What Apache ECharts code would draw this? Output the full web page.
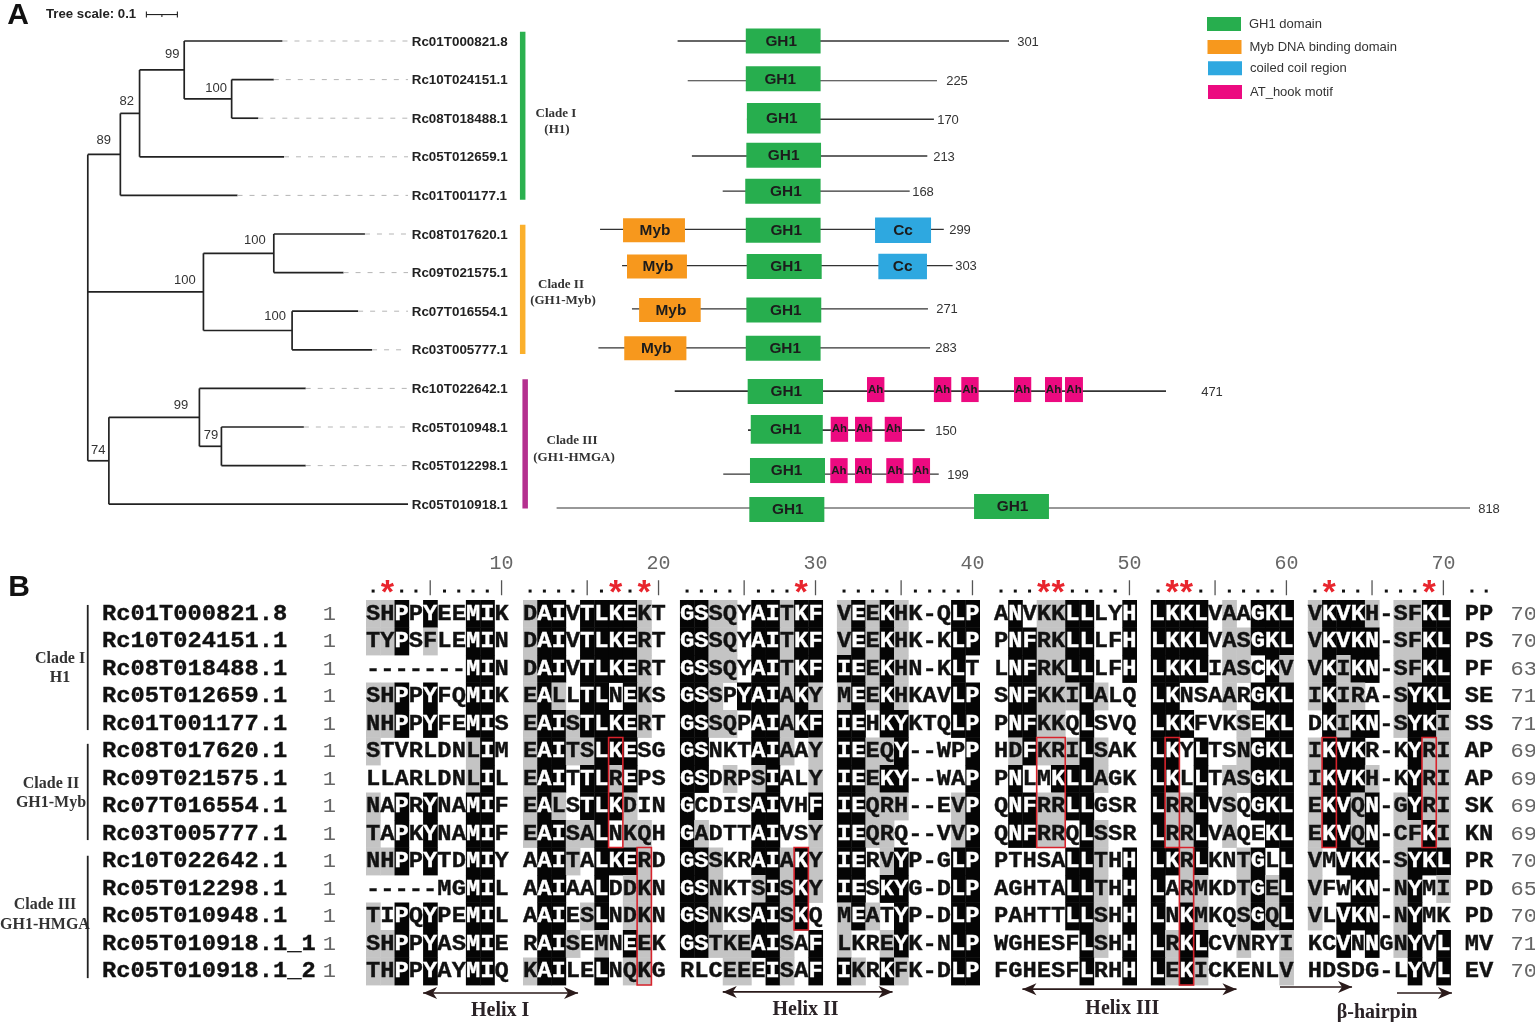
<!DOCTYPE html>
<html><head><meta charset="utf-8">
<style>html,body{margin:0;padding:0;background:#fff;overflow:hidden}#c{width:1535px;height:1022px}</style>
<script src="https://cdn.jsdelivr.net/npm/echarts@6/dist/echarts.min.js"></script>
</head><body><div id="c"></div>
<script>
// ---------- Panel A data ----------
const leafNames = ['Rc01T000821.8','Rc10T024151.1','Rc08T018488.1','Rc05T012659.1','Rc01T001177.1','Rc08T017620.1','Rc09T021575.1','Rc07T016554.1','Rc03T005777.1','Rc10T022642.1','Rc05T010948.1','Rc05T012298.1','Rc05T010918.1'];
// node, parent, distance from root; leaves are numbered by row
const treeInternal = [['root',null,0],['a','root',.105],['b','a',.167],['c','b',.311],['d','c',.464],['e','root',.373],['f','e',.600],['g','e',.659],['h','root',.068],['i','h',.360],['j','i',.431]];
const leafParents = ['c','d','d','b','a','f','f','g','g','i','j','j','h'];
const leafDistances = [.628,.600,.550,.633,.483,.894,.825,.872,.917,.703,.697,.703,1.033];
const supportNodes = ['c','d','b','a','f','e','g','i','j','h'];
const supportValues = [99,100,82,89,100,100,100,99,79,74];
const treeScaleLength = 0.1;
const proteinLengths = [301,225,170,213,168,299,303,271,283,471,150,199,818];
const proteinSpans = [[116,417.3],[125.2,351.8],[179,349],[129,343],[157,327],[45.5,358],[65.5,366],[74.5,343.6],[44,345.5],[113.4,560],[180,340.6],[157.5,353.4],[6,836.4]];
const gh1Spans = [[[178,246]],[[178,246]],[[179,246]],[[178.5,246.4]],[[177.5,246]],[[178,246]],[[178.8,247]],[[178.5,246.6]],[[178,246]],[[179.7,248.2]],[[182.5,248]],[[181.8,250]],[[181.2,249.4],[385.5,453.6]]];
const mybSpans = {5:[[66.4,122.7]],6:[[70,124.5]],7:[[81,137]],8:[[67.5,124]]};
const ccSpans = {5:[[295.5,346.4]],6:[[298.5,342.7]]};
const ahSpans = {9:[[288.2,304],[349,364.8],[373.9,389.7],[421.8,437.5],[450,465.5],[468.2,484.5]],10:[[255.2,271],[277.3,293],[304.3,320]],11:[[254.8,270.6],[277.3,292.7],[305.7,321.5],[329.7,345.5]]};
const domainNames = ['GH1 domain','Myb DNA binding domain','coiled coil region','AT_hook motif'];
const domainShort = ['GH1','Myb','Cc','Ah'];
// ---------- Panel B data ----------
const seqNames = ['Rc01T000821.8','Rc10T024151.1','Rc08T018488.1','Rc05T012659.1','Rc01T001177.1','Rc08T017620.1','Rc09T021575.1','Rc07T016554.1','Rc03T005777.1','Rc10T022642.1','Rc05T012298.1','Rc05T010948.1','Rc05T010918.1_1','Rc05T010918.1_2'];
const seqResidues = [
'SHPPYEEMIK DAIVTLKEKT GSSQYAITKF VEEKHK-QLP ANVKKLLLYH LKKLVAAGKL VKVKH-SFKL PP',
'TYPSFLEMIN DAIVTLKERT GSSQYAITKF VEEKHK-KLP PNFRKLLLFH LKKLVASGKL VKVKN-SFKL PS',
'-------MIN DAIVTLKERT GSSQYAITKF IEEKHN-KLT LNFRKLLLFH LKKLIASCKV VKIKN-SFKL PF',
'SHPPYFQMIK EALLTLNEKS GSSPYAIAKY MEEKHKAVLP SNFKKILALQ LKNSAARGKL IKIRA-SYKL SE',
'NHPPYFEMIS EAISTLKERT GSSQPAIAKF IEHKYKTQLP PNFKKQLSVQ LKKFVKSEKL DKIKN-SYKI SS',
'STVRLDNLIM EAITSLKESG GSNKTAIAAY IEEQY--WPP HDFKRILSAK LKYLTSNGKL IKVKR-KYRI AP',
'LLARLDNLIL EAITTLREPS GSDRPSIALY IEEKY--WAP PNLMKLLAGK LKLLTASGKL IKVKH-KYRI AP',
'NAPRYNAMIF EALSTLKDIN GCDISAIVHF IEQRH--EVP QNFRRLLGSR LRRLVSQGKL EKVQN-GYRI SK',
'TAPKYNAMIF EAISALNKQH GADTTAIVSY IEQRQ--VVP QNFRRQLSSR LRRLVAQEKL EKVQN-CFKI KN',
'NHPPYTDMIY AAITALKERD GSSKRAIAKY IERVYP-GLP PTHSALLTHH LKRLKNTGLL VMVKK-SYKL PR',
'-----MGMIL AAIAALDDKN GSNKTSISKY IESKYG-DLP AGHTALLTHH LARMKDTGEL VFWKN-NYMI PD',
'TIPQYPEMIL AAIESLNDKN GSNKSAISKQ MEATYP-DLP PAHTTLLSHH LNKMKQSGQL VLVKN-NYMK PD',
'SHPPYASMIE RAISEMNEEK GSTKEAISAF LKREYK-NLP WGHESFLSHH LRKLCVNRYI KCVNNGNYVL MV',
'THPPYAYMIQ KAILELNQKG RLCEEEISAF IKRKFK-DLP FGHESFLRHH LEKICKENLV HDSDG-LYVL EV'];
// conservation class of every residue: k strong, g similar, . none
const seqShading = [
'ggk.k..kk. gkk.kkkkg. kkgg.kkgkk gkgkg...kk .k.ggkk..k kkkk.g.kkk gkkkg.ggkk ..',
'ggk.g..kk. gkk.kkkkg. kkgg.kkgkk gkgkg...kk .kkggkk..k kkkk.ggkkk gkkkk.ggkk ..',
'.......kk. gkk.kkkkg. kkgg.kkgkk kkgkg...k. .kkggkk..k kkkk.gg.kg gkgkk.ggkk ..',
'ggk.k..kk. gkg.kk.kg. kkg.kkkgkg gkgkg...kk .kkgggkg.. kk...g.kkk gkgg..gkkk ..',
'ggk.k..kk. gkkgkkkkg. kkgg.kkgkk kk.kk...kk .kkgg.k... kkk...g.kk .kgkk.gkkg ..',
'g......gk. gkkggkkk.. kk...kkg.g kkggk....k .gkgggkg.. kk.k..gkkk gkkk...kgg ..',
'.......gk. gkk.kkgk.. kk.g.gk..g kkgkk....k .k..kkkg.. kk.k.ggkkk gkkkg..kgg ..',
'g.k.k..kk. gkg.kkkg.. k....kk..k kkggg...gk .kkggkk... kggk.g.kkk gkkgk.gkgg ..',
'g.k.k..kk. gkkggk.gg. kg...kk..g kkgg....gk .kkgg.kg.. kggk.g..kk gkkgk.ggkg ..',
'ggk.k..kk. .kkg.kkkg. kkg..kkgkg kk.gk...kk .....kkg.k kkgk..gk.k g.kkk.gkkk ..',
'.......kk. .kk..k.gg. kkg..gkgkg kk.kk...kk .....kkg.k k.gg..gkgk g..kk.gk.g ..',
'g.k.k..kk. .kk.gk.gg. kkg..kkgk. gkg.k...kk .....kkg.k k.kg..gkgk g.kkk.gk.. ..',
'ggk.k..kk. .kkg.g.kg. kkgggkkg.k g..gk...kk ......kg.k kgkk..g..g ..k.k.gk.k ..',
'ggk.k..kk. gkk..k.gg. ...gg.kg.k kg.kg...kk ......k..k kgkg.....g .......k.k ..'];
const seqEnds = [70,70,63,71,71,69,69,69,69,70,65,70,71,70];
const rulerMarks = '.*..|....| ....|.*.*| ....|...*| ....|....| ...**....| .**.|....| .*..|...*| ..';
const rulerNumbers = [10,20,30,40,50,60,70];
// alignment position from, position to, first row, last row
const boxedResidues = [[17,17,5,8],[19,19,9,13],[29,29,9,11],[44,45,5,8],[52,52,5,8],[53,53,9,13],[62,62,5,8],[69,69,5,8]];
const structureNames = ['Helix I','Helix II','Helix III','β-hairpin'];
const structureArrows = [[4,14.86,true],[25,36.9,true],[46,61,true],[64.05,69.1,false],[72.25,76.1,false]];

// ---------- Layout (row units / pixels) ----------
const protRowPos = [0,1.03,2.03,2.98,3.89,4.88,5.82,6.94,7.95,9.07,10.08,11.22,12.1];
const boxRowPos = [0,.98,2.0,2.96,3.89,4.9,5.84,6.97,7.96,9.08,10.06,11.13,12.14];
const protLineW = [1.7,1.1,1.5,1.5,1.3,1.3,1.3,1.1,1.1,1.9,1.9,1.3,1.1];
const gh1Tall = {2:30.5,10:28.7};
const gh1TextDx = [-2,-3,-2,0,3,3,2,2,2,1,-1,-1,1];
const lengthLabelX = [1028,957,948,944,923,960,966,947,946,1212,946,958,1489];
const supportNudge = [[-12,-16],[-15.5,-10.7],[-12.8,-11.5],[-16.5,-14],[-19,-13],[-18.5,-11],[-17,-14],[-18.5,-11.7],[-10.4,-10.7],[-10.7,-10]];
const COLORS = {GH1:'#27ae4e',Myb:'#f7981d',Cc:'#2ea8e0',Ah:'#ec0a80'};
const SER = '"Liberation Serif"', SAN = '"Liberation Sans"', MONO = '"Liberation Mono"';

function txt(x,y,text,font,fill,align,scaleX,heavy){
  const st={text:String(text),font:font,fill:fill||'#1a1a1a',align:align||'center',verticalAlign:'middle'};
  if(heavy){st.stroke=fill;st.lineWidth=heavy;}
  return {type:'text',x:x,y:y,scaleX:scaleX||1,style:st};
}
function seg(p,q,w,color,dash){
  return {type:'line',shape:{x1:p[0],y1:p[1],x2:q[0],y2:q[1]},style:{stroke:color||'#222',lineWidth:w,lineDash:dash||null}};
}
function marks(name,grid,items,draw,z,color){
  return {type:'custom',name:name,coordinateSystem:'cartesian2d',xAxisIndex:grid,yAxisIndex:grid,clip:false,silent:true,z:z||2,
    itemStyle:color?{color:color}:undefined,
    data:items.map(d=>[d.x,d.y]),
    renderItem:(p,api)=>draw(items[p.dataIndex],api)};
}

// ---------- Tree ----------
const nodes = {};
treeInternal.forEach(n=>nodes[n[0]]={id:n[0],parent:n[1],x:n[2],kids:[]});
leafNames.forEach((nm,i)=>{nodes['L'+i]={id:'L'+i,parent:leafParents[i],x:leafDistances[i],y:i,kids:[]};});
Object.values(nodes).forEach(n=>{if(n.parent)nodes[n.parent].kids.push(n);});
function rowOf(n){ if(n.y===undefined){const ys=n.kids.map(rowOf);n.y=(Math.min(...ys)+Math.max(...ys))/2;} return n.y; }
rowOf(nodes.root);
const branchItems=[];
Object.values(nodes).forEach(n=>{
  if(n.parent) branchItems.push({x:n.x,y:n.y,x0:nodes[n.parent].x,y0:n.y});
  if(n.kids.length){const ys=n.kids.map(k=>k.y);branchItems.push({x:n.x,y:Math.min(...ys),x0:n.x,y0:Math.max(...ys)});}
});
const dashItems = leafNames.map((nm,i)=>({x:1.033,y:i,x0:leafDistances[i]}));
const leafItems = leafNames.map((nm,i)=>({x:1.045,y:i,t:nm}));
const supportItems = supportNodes.map((id,i)=>({x:nodes[id].x,y:nodes[id].y,t:supportValues[i],n:supportNudge[i]}));
const scaleItems = [{x:.189,y:-.685,x0:.189+treeScaleLength}];
const cladeBarsA = [[0,4,'#2bb14f',1.394],[5,8,'#fbb02c',1.394],[9,12,'#b5308f',1.402]].map(c=>({x:c[3],y:c[0],y1:c[1],c:c[2]}));

// ---------- Domains ----------
const protItems = proteinSpans.map((s,i)=>({x:s[0],y:protRowPos[i],x1:s[1],w:protLineW[i]}));
const lenItems = proteinLengths.map((v,i)=>({x:0,y:protRowPos[i],t:v,px:lengthLabelX[i]}));
function domainItems(src,kind){
  const out=[];
  Object.keys(src).forEach(k=>{const r=+k;(src[k]||[]).forEach((s,j)=>{
    out.push({x:s[0],x1:s[1],y:boxRowPos[r]-((kind==='GH1'&&j===1)?.08:0)-(kind==='Ah'&&r===9?.05:0),r:r,kind:kind});
  });});
  return out;
}
const boxH={GH1:25,Myb:24,Cc:25.5,Ah:25};
function drawDomain(d,api){
  const a=api.coord([d.x,d.y]),b=api.coord([d.x1,d.y]);
  const h=(d.kind==='GH1'&&gh1Tall[d.r])||boxH[d.kind];
  const dx=d.kind==='GH1'?gh1TextDx[d.r]:(d.kind==='Myb'?1:0);
  const f=d.kind==='Ah'?'bold 11.5px '+SAN:'bold 15.4px '+SAN;
  return {type:'group',children:[
    {type:'rect',shape:{x:a[0],y:a[1]-h/2,width:b[0]-a[0],height:h},style:{fill:COLORS[d.kind]}},
    txt((a[0]+b[0])/2+dx,a[1]+(d.kind==='Ah'?0:.5),domainShort[d.kind==='GH1'?0:d.kind==='Myb'?1:d.kind==='Cc'?2:3],f,'#1c1c1c')
  ]};
}

// ---------- Alignment ----------
const cellItems=[],letterItems=[];
seqResidues.forEach((s,r)=>{
  for(let c=0;c<s.length;c++){
    if(s[c]===' ')continue;
    const sh=seqShading[r][c];
    if(sh!=='.')cellItems.push({x:c,y:r,s:sh});
    letterItems.push({x:c+.5,y:r+.5,t:s[c],s:sh});
  }
});
const nameItems=seqNames.map((n,r)=>({x:-18.5,y:r+.5,t:n}));
const oneItems=seqNames.map((n,r)=>({x:-2.57,y:r+.5,t:1}));
const endItems=seqEnds.map((v,r)=>({x:80.2,y:r+.5,t:v}));
const rulerItems=[];
for(let c=0;c<rulerMarks.length;c++){ if(rulerMarks[c]!==' ') rulerItems.push({x:c+.5,y:-.5,m:rulerMarks[c]}); }
const displayCol=p=>p-1+Math.floor((p-1)/10);
const numItems=rulerNumbers.map(v=>({x:displayCol(v)+.5,y:-1.33,t:v}));
const boxItems=boxedResidues.map(b=>({x:displayCol(b[0]),x1:displayCol(b[1])+1,y:b[2],y1:b[3]+1}));
const arrowY=[14.29,14.25,14.15,14.07,14.29];
const arrowItems=structureArrows.map((a,i)=>({x:a[0],x1:a[1],y:arrowY[i],both:a[2]}));
const structLabelItems=[{x:9.4,y:14.93},{x:30.8,y:14.9},{x:53,y:14.86},{x:70.85,y:15.03}].map((o,i)=>Object.assign(o,{t:structureNames[i]}));
const cladeBarsB=[[.18,4.73],[5.23,8.73],[9.3,13.75]].map(b=>({x:-19.5,y:b[0],y1:b[1]}));

function head(tip,dir){
  return {type:'polygon',shape:{points:[[tip[0],tip[1]],[tip[0]-dir*14,tip[1]-6],[tip[0]-dir*10,tip[1]],[tip[0]-dir*14,tip[1]+6]]},style:{fill:'#2a1a1a'}};
}

const series=[
  marks('branches',0,branchItems,(d,api)=>seg(api.coord([d.x0,d.y0]),api.coord([d.x,d.y]),1.7,'#222')),
  marks('extensions',0,dashItems,(d,api)=>seg(api.coord([d.x0,d.y]),api.coord([d.x,d.y]),1,'#b5b5b5',[5,7])),
  marks('leaves',0,leafItems,(d,api)=>{const p=api.coord([d.x,d.y]);return txt(p[0],p[1]+1,d.t,'bold 13.4px '+SAN,'#222','left');}),
  marks('support',0,supportItems,(d,api)=>{const p=api.coord([d.x,d.y]);return txt(p[0]+d.n[0],p[1]+d.n[1],d.t,'13px '+SAN,'#333');}),
  marks('scale',0,scaleItems,(d,api)=>{const a=api.coord([d.x,d.y]),b=api.coord([d.x0,d.y]);const m=(a[0]+b[0])/2;
    return {type:'group',children:[seg(a,b,1.1,'#222'),seg([a[0],a[1]-3],[a[0],a[1]+3],1.1,'#222'),seg([b[0],b[1]-3],[b[0],b[1]+3],1.1,'#222'),seg([m,a[1]],[m,a[1]+2.5],1.1,'#222')]};}),
  marks('cladebars',0,cladeBarsA,(d,api)=>{const a=api.coord([d.x,d.y-.24]),b=api.coord([d.x,d.y1+.11]);return {type:'rect',shape:{x:a[0],y:a[1],width:5.5,height:b[1]-a[1]},style:{fill:d.c}};}),
  marks('protein',1,protItems,(d,api)=>seg(api.coord([d.x,d.y]),api.coord([d.x1,d.y]),d.w,'#333')),
  marks('lengths',1,lenItems,(d,api)=>{const p=api.coord([0,d.y]);return txt(d.px,p[1]+1,d.t,'13px '+SAN,'#333');}),
  marks(domainNames[0],1,domainItems(Object.assign({},gh1Spans),'GH1'),drawDomain,3,COLORS.GH1),
  marks(domainNames[1],1,domainItems(mybSpans,'Myb'),drawDomain,3,COLORS.Myb),
  marks(domainNames[2],1,domainItems(ccSpans,'Cc'),drawDomain,3,COLORS.Cc),
  marks(domainNames[3],1,domainItems(ahSpans,'Ah'),drawDomain,3,COLORS.Ah),
  marks('cells',2,cellItems,(d,api)=>{const a=api.coord([d.x,d.y]),b=api.coord([d.x+1,d.y+1]);
    return {type:'rect',shape:{x:a[0],y:a[1],width:b[0]-a[0]+.4,height:b[1]-a[1]+.4},style:{fill:d.s==='k'?'#050505':'#c4c4c4'}};},2),
  marks('letters',2,letterItems,(d,api)=>{const p=api.coord([d.x,d.y]);return txt(p[0],p[1]+.5,d.t,'bold 22px '+MONO,d.s==='k'?'#fff':'#111','center',1.08,.35);},3),
  marks('names',2,nameItems,(d,api)=>{const p=api.coord([d.x,d.y]);return txt(p[0],p[1]+.5,d.t,'bold 22px '+MONO,'#111','left',1.08,.35);}),
  marks('starts',2,oneItems,(d,api)=>{const p=api.coord([d.x,d.y]);return txt(p[0],p[1]+.5,d.t,'21px '+MONO,'#666','center',1.05);}),
  marks('ends',2,endItems,(d,api)=>{const p=api.coord([d.x,d.y]);return txt(p[0],p[1]+.5,d.t,'21px '+MONO,'#666','left',1.05);}),
  marks('ruler',2,rulerItems,(d,api)=>{const p=api.coord([d.x,d.y]);
    if(d.m==='.')return {type:'rect',shape:{x:p[0]-1.5,y:p[1]+3.3,width:3,height:3},style:{fill:'#111'}};
    if(d.m==='|')return seg([p[0],p[1]-6],[p[0],p[1]+9],1.3,'#555');
    return txt(p[0],p[1]+9,'*','bold 34px '+MONO,'#e8252d');}),
  marks('rulernums',2,numItems,(d,api)=>{const p=api.coord([d.x,d.y]);return txt(p[0],p[1],d.t,'20px '+MONO,'#666');}),
  marks('boxes',2,boxItems,(d,api)=>{const a=api.coord([d.x,d.y]),b=api.coord([d.x1,d.y1]);
    return {type:'rect',shape:{x:a[0],y:a[1],width:b[0]-a[0],height:b[1]-a[1]},style:{fill:'none',stroke:'#d8232c',lineWidth:1.6}};},5),
  marks('cladebarsB',2,cladeBarsB,(d,api)=>seg(api.coord([d.x,d.y]),api.coord([d.x,d.y1]),1.8,'#222')),
  marks('arrows',2,arrowItems,(d,api)=>{const a=api.coord([d.x,d.y]),b=api.coord([d.x1,d.y]);
    const kids=[seg(a,b,1.6,'#2a1a1a'),head(b,1)];if(d.both)kids.push(head(a,-1));return {type:'group',children:kids};}),
  marks('structlabels',2,structLabelItems,(d,api)=>{const p=api.coord([d.x,d.y]);return txt(p[0],p[1],d.t,'bold 20px '+SER,'#2a2226');})
];

const legendPos=[[1207,17],[1207.5,40],[1208,61.3],[1208,85]];
const legends=domainNames.map((n,i)=>({data:[n],left:legendPos[i][0],top:legendPos[i][1],orient:'vertical',padding:0,selectedMode:false,
  icon:'rect',itemWidth:34,itemHeight:14,textStyle:{fontFamily:'Liberation Sans',fontSize:13,color:'#333',padding:[0,0,0,3]}}));

const gfx=(x,y,t,font,fill,align)=>({type:'text',x:x,y:y,silent:true,style:{text:t,font:font,fill:fill||'#222',align:align||'center',verticalAlign:'middle'}});
const cladeTextA=[[556,114,'Clade I'],[557,130,'(H1)'],[561,285,'Clade II'],[563,301,'(GH1-Myb)'],[572,441,'Clade III'],[574,458,'(GH1-HMGA)']];
const cladeTextB=[[60,659,'Clade I'],[60,678,'H1'],[51,784,'Clade II'],[51,803,'GH1-Myb'],[45,905,'Clade III'],[45,925,'GH1-HMGA']];
const graphic=[gfx(18,15.5,'A','bold 30px '+SAN,'#111'),gfx(19,588,'B','bold 30px '+SAN,'#111'),gfx(46,14,'Tree scale: 0.1','bold 13.2px '+SAN,'#222','left')]
  .concat(cladeTextA.map(c=>gfx(c[0],c[1],c[2],'bold 13px '+SER,'#333')))
  .concat(cladeTextB.map(c=>gfx(c[0],c[1],c[2],'bold 16px '+SER,'#333')));

const hiddenAxis=(g,min,max,inverse)=>({type:'value',gridIndex:g,min:min,max:max,inverse:!!inverse,show:false,scale:true,splitLine:{show:false}});
const chart=echarts.init(document.getElementById('c'),null,{renderer:'canvas',width:1535,height:1022});
chart.setOption({
  animation:false,backgroundColor:'#fff',tooltip:{show:false},legend:legends,graphic:graphic,
  grid:[{left:0,top:2.4,width:1535,height:540.4},{left:0,top:2.4,width:1535,height:540.4},{left:0,top:545,width:1535,height:477}],
  xAxis:[hiddenAxis(0,-87.8/310,(1535-87.8)/310),hiddenAxis(1,-500,985/1.1),hiddenAxis(2,-366/14.27,(1535-366)/14.27)],
  yAxis:[hiddenAxis(0,-1,13,true),hiddenAxis(1,-1,13,true),hiddenAxis(2,-2,477/27.5-2,true)],
  series:series
});
</script></body></html>
